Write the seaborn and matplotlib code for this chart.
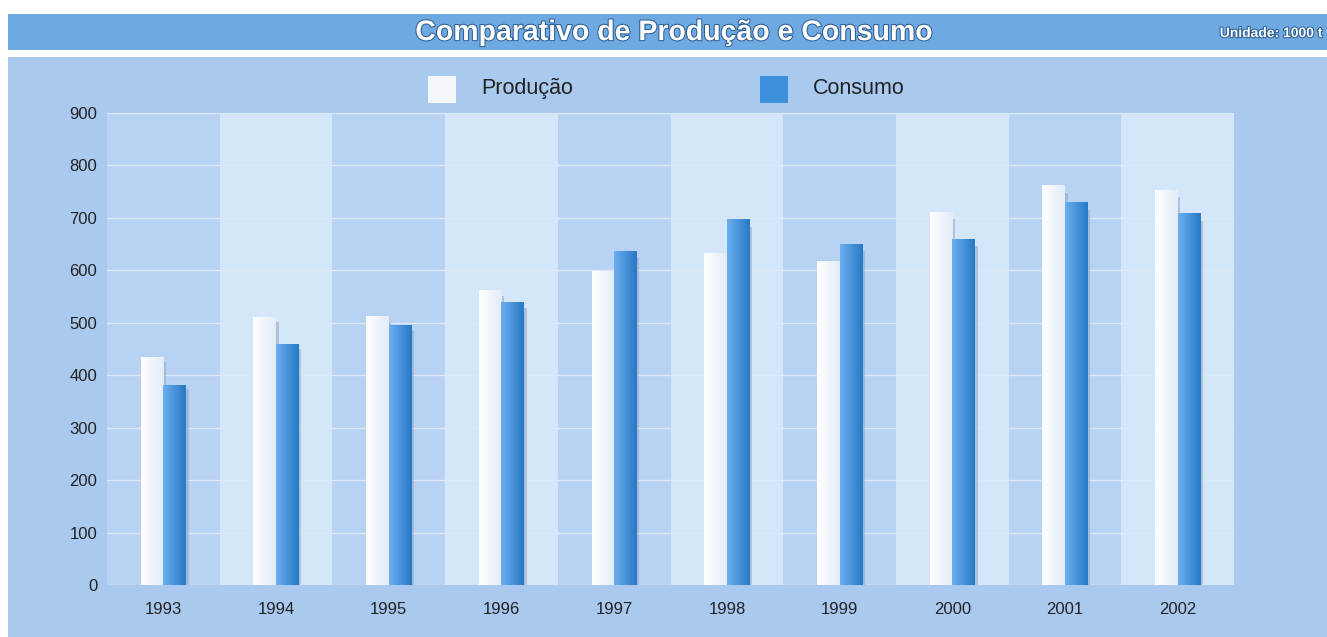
import numpy as np
import pandas as pd
import matplotlib
matplotlib.use("Agg")
import matplotlib.pyplot as plt
import seaborn as sns
from matplotlib.patches import Rectangle
import matplotlib.patheffects as pe

# data (unit: 1000 t)
years = ["1993", "1994", "1995", "1996", "1997", "1998", "1999", "2000", "2001", "2002"]
producao = [434, 511, 512, 563, 598, 634, 617, 712, 762, 754]
consumo = [382, 459, 495, 539, 637, 697, 650, 659, 730, 709]
series_names = ["Produção", "Consumo"]
y_ticks = [0, 100, 200, 300, 400, 500, 600, 700, 800, 900]

sns.set_theme(style="white")
plt.rcParams["font.family"] = ["Liberation Sans", "DejaVu Sans"]

df = pd.DataFrame({
    "ano": years * 2,
    "valor": producao + consumo,
    "serie": [series_names[0]] * len(years) + [series_names[1]] * len(years),
})

fig = plt.figure(figsize=(13.27, 6.37), dpi=100)
fig.patch.set_facecolor("white")

# title band and panel background
fig.patches.append(Rectangle((0.006, 0.921), 0.994, 0.057, transform=fig.transFigure,
                             facecolor="#6fa9e2", edgecolor="none", zorder=-2))
fig.patches.append(Rectangle((0.006, 0.0), 0.994, 0.910, transform=fig.transFigure,
                             facecolor="#a9c9ef", edgecolor="none", zorder=-2))

ax = fig.add_axes([0.0806, 0.0816, 0.8494, 0.741])
ax.set_zorder(1)
ax.set_facecolor("#b7d2f2")

# alternating column bands
for i in range(len(years)):
    if i % 2 == 1:
        ax.axvspan(i - 0.5, i + 0.5, color="#d4e6f9", zorder=0, lw=0)

sns.barplot(data=df, x="ano", y="valor", hue="serie", ax=ax, width=0.4,
            palette=["#f4f8fd", "#3d8fdc"], dodge=True, legend=False,
            saturation=1, zorder=3)

# gradient fill and soft shadow on each bar
grads = [
    matplotlib.colors.LinearSegmentedColormap.from_list("p", ["#ffffff", "#e2ecf8"]),
    matplotlib.colors.LinearSegmentedColormap.from_list("c", ["#6aaeee", "#2779c6"]),
]
for k, cont in enumerate(ax.containers):
    for bar in cont:
        x0, w, h = bar.get_x(), bar.get_width(), bar.get_height()
        ax.add_patch(Rectangle((x0 + w, 0), w * 0.12, h * 0.98, facecolor="#8ea6c4",
                               edgecolor="none", alpha=0.55, zorder=2.5))
        im = ax.imshow(np.linspace(0, 1, 64).reshape(1, -1), cmap=grads[k], aspect="auto",
                       extent=(x0, x0 + w, 0, h), zorder=3.5)
        im.set_clip_path(bar)
        bar.set_edgecolor("none")

ax.set_xlim(-0.5, len(years) - 0.5)
ax.set_ylim(0, 900)
ax.set_yticks(y_ticks)
ax.yaxis.grid(True, color="#dbe9f9", lw=1.0, zorder=1)
ax.set_axisbelow(True)
for s in ax.spines.values():
    s.set_visible(False)
ax.tick_params(axis="both", length=0, labelsize=12, colors="#222222")
ax.tick_params(axis="x", pad=12)
ax.tick_params(axis="y", pad=7)
ax.set_xlabel("")
ax.set_ylabel("")

# legend drawn as squares and labels above the plot
leg_items = [(0.3225, series_names[0], "#f4f8fd"), (0.5727, series_names[1], "#3d8fdc")]
for x, name, col in leg_items:
    fig.patches.append(Rectangle((x, 0.838), 0.021, 0.043, transform=fig.transFigure,
                                 facecolor=col, edgecolor="none", zorder=2))
    fig.text(x + 0.040, 0.861, name, fontsize=15.5, color="#222222", va="center", ha="left")

outline = [pe.withStroke(linewidth=1.5, foreground="#2d5f95")]
fig.text(0.508, 0.948, "Comparativo de Produção e Consumo", fontsize=20.5, fontweight="bold",
         color="white", ha="center", va="center", path_effects=outline)
fig.text(0.997, 0.948, "Unidade: 1000 t", fontsize=10, fontweight="bold",
         color="white", ha="right", va="center", path_effects=outline)

fig.savefig("out.png", dpi=100, facecolor=fig.get_facecolor())
